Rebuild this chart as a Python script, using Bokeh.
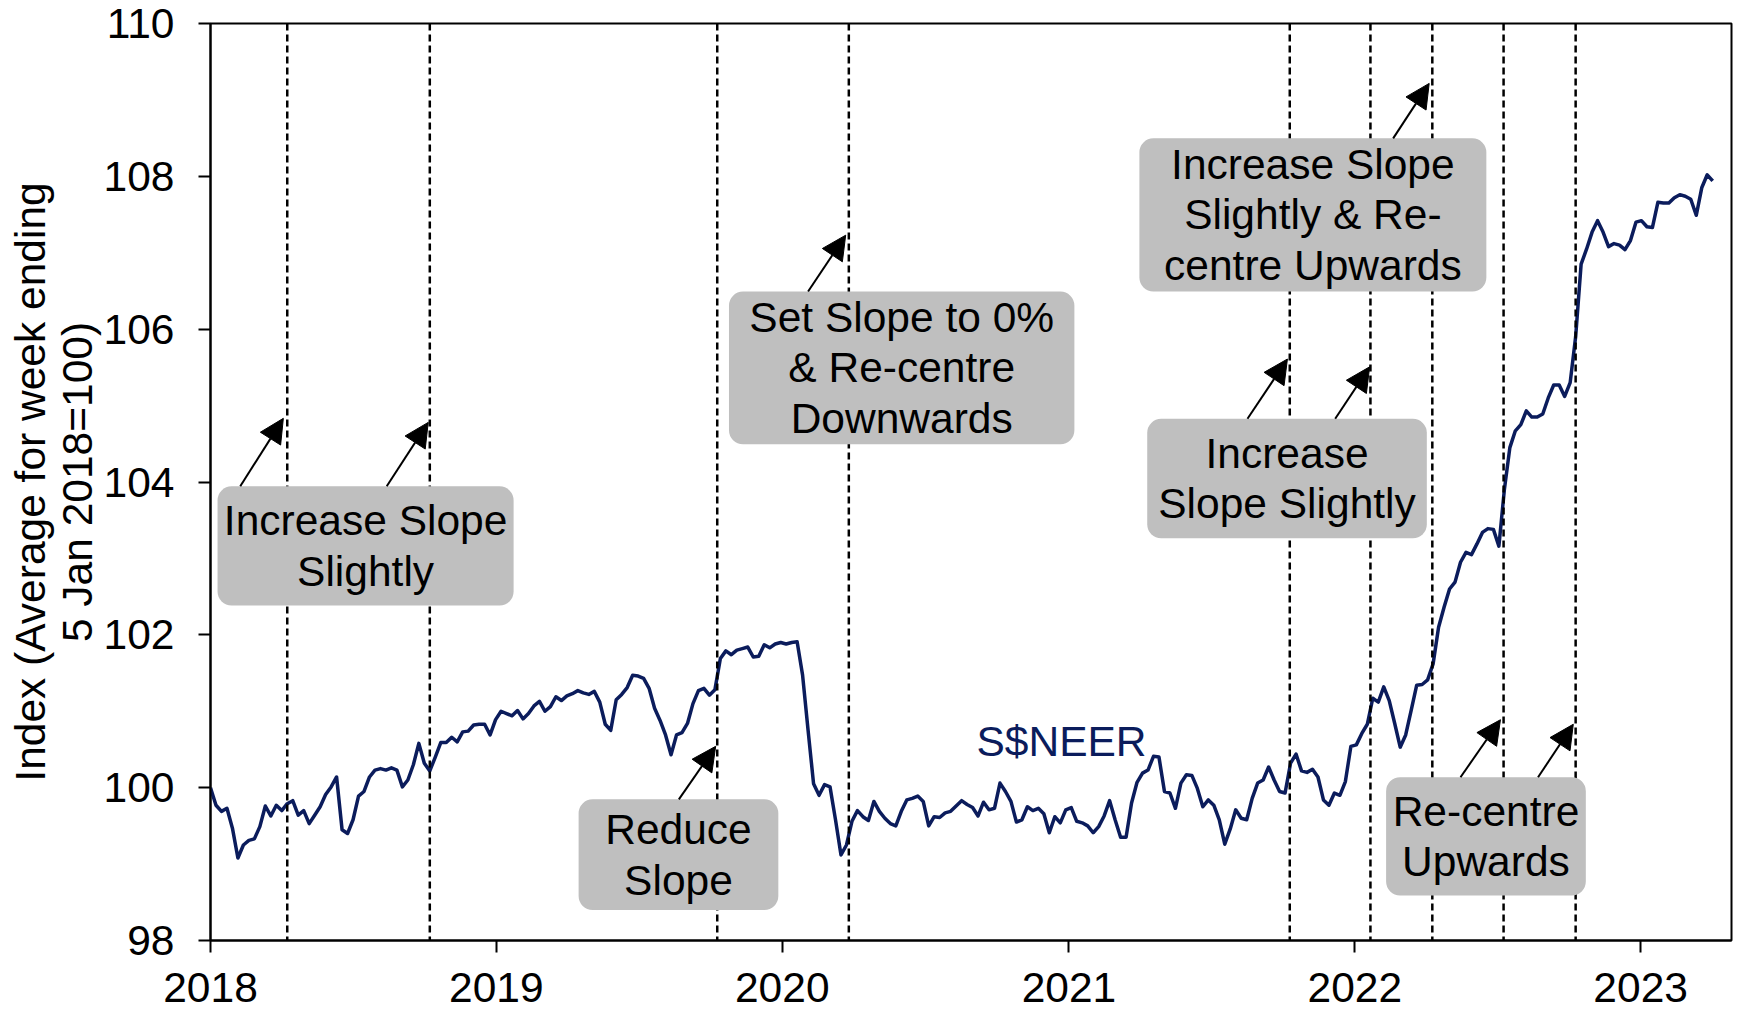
import pandas as pd
from bokeh.plotting import figure
from bokeh.models import (Range1d, FixedTicker, DatetimeTickFormatter, Span,
                          BoxAnnotation, Label, Arrow, NormalHead)
from bokeh.embed import file_html
from bokeh.resources import INLINE

# ---------------- data ----------------
START = "2018-01-05"          # first weekly observation (index base)
END_AXIS = "2023-05-01"

neer_2018 = [100.00, 99.77, 99.69, 99.73, 99.47, 99.08, 99.25, 99.31, 99.33, 99.49,
             99.76, 99.63, 99.77, 99.70, 99.79, 99.83, 99.64, 99.70, 99.53, 99.64,
             99.75, 99.91, 100.01, 100.14, 99.45, 99.40, 99.58, 99.89, 99.95, 100.14,
             100.23, 100.25, 100.23, 100.26, 100.23, 100.01, 100.10, 100.30, 100.58, 100.32,
             100.22, 100.40, 100.59, 100.59, 100.66, 100.60, 100.73, 100.74, 100.82, 100.83,
             100.83, 100.69]
neer_2019 = [100.89, 101.00, 100.97, 100.94, 101.01, 100.90, 100.97, 101.07, 101.13, 101.00,
             101.06, 101.19, 101.14, 101.20, 101.23, 101.27, 101.24, 101.22, 101.26, 101.12,
             100.83, 100.75, 101.15, 101.22, 101.31, 101.47, 101.46, 101.43, 101.30, 101.04,
             100.88, 100.69, 100.43, 100.69, 100.72, 100.84, 101.10, 101.27, 101.30, 101.21,
             101.28, 101.69, 101.79, 101.74, 101.80, 101.82, 101.84, 101.71, 101.72, 101.87,
             101.83, 101.88]
neer_2020 = [101.90, 101.88, 101.90, 101.91, 101.47, 100.75, 100.05, 99.90, 100.04, 100.01,
             99.58, 99.12, 99.25, 99.56, 99.70, 99.62, 99.57, 99.82, 99.69, 99.60,
             99.53, 99.50, 99.69, 99.84, 99.86, 99.89, 99.82, 99.50, 99.62, 99.61,
             99.67, 99.69, 99.76, 99.83, 99.78, 99.74, 99.63, 99.81, 99.71, 99.73,
             100.06, 99.95, 99.82, 99.55, 99.58, 99.75, 99.70, 99.73, 99.66, 99.41,
             99.62, 99.54]
neer_2021 = [99.71, 99.74, 99.56, 99.54, 99.50, 99.41, 99.49, 99.63, 99.83, 99.58,
             99.35, 99.35, 99.80, 100.07, 100.19, 100.23, 100.41, 100.40, 99.95, 99.93,
             99.73, 100.06, 100.17, 100.16, 99.99, 99.75, 99.84, 99.77, 99.58, 99.26,
             99.46, 99.71, 99.60, 99.58, 99.86, 100.06, 100.10, 100.27, 100.10, 99.95,
             99.93, 100.32, 100.44, 100.22, 100.20, 100.24, 100.14, 99.84, 99.77, 99.93,
             99.90, 100.08, 100.54]
neer_2022 = [100.56, 100.71, 100.83, 101.17, 101.12, 101.32, 101.14, 100.84, 100.53, 100.69,
             101.01, 101.34, 101.35, 101.41, 101.62, 102.10, 102.36, 102.60, 102.69, 102.95,
             103.08, 103.05, 103.19, 103.34, 103.39, 103.38, 103.16, 103.90, 104.45, 104.67,
             104.75, 104.93, 104.85, 104.85, 104.89, 105.10, 105.27, 105.27, 105.12, 105.30,
             105.90, 106.85, 107.05, 107.27, 107.42, 107.27, 107.08, 107.12, 107.10, 107.04,
             107.16, 107.40]
neer_2023 = [107.42, 107.34, 107.33, 107.66, 107.65, 107.65, 107.72, 107.76, 107.74, 107.70,
             107.49, 107.85, 108.02, 107.94]

neer = neer_2018 + neer_2019 + neer_2020 + neer_2021 + neer_2022 + neer_2023
dates = pd.date_range(START, periods=len(neer), freq="7D")

y_ticks = [98, 100, 102, 104, 106, 108, 110]
year_ticks = ["2018-01-05", "2019-01-05", "2020-01-05", "2021-01-05", "2022-01-05", "2023-01-05"]

# MAS monetary policy decision dates (dashed lines)
policy_dates = ["2018-04-13", "2018-10-12", "2019-10-14", "2020-03-30", "2021-10-14",
                "2022-01-25", "2022-04-14", "2022-07-14", "2022-10-14"]

# annotation boxes: text, left, right, top, bottom
box_text = ["Increase Slope\nSlightly",
            "Set Slope to 0%\n& Re-centre\nDownwards",
            "Reduce\nSlope",
            "Increase Slope\nSlightly & Re-\ncentre Upwards",
            "Increase\nSlope Slightly",
            "Re-centre\nUpwards"]
box_left = ["2018-01-14", "2019-10-29", "2019-04-20", "2021-04-05", "2021-04-15", "2022-02-14"]
box_right = ["2019-01-27", "2021-01-12", "2019-12-31", "2022-06-22", "2022-04-07", "2022-10-27"]
box_top = [103.944, 106.492, 99.847, 108.497, 104.827, 100.136]
box_bottom = [102.383, 104.494, 98.399, 106.493, 103.264, 98.588]

# arrows: start (date, value) -> end (date, value)
arr_x0 = ["2018-02-12", "2018-08-18", "2020-02-07", "2019-08-26", "2022-02-23",
          "2021-08-21", "2021-12-11", "2022-05-20", "2022-08-27"]
arr_y0 = [103.944, 103.944, 106.492, 99.847, 108.497, 104.827, 104.827, 100.136, 100.136]
arr_x1 = ["2018-04-08", "2018-10-10", "2020-03-26", "2019-10-12", "2022-04-10",
          "2021-10-11", "2022-01-24", "2022-07-10", "2022-10-11"]
arr_y1 = [104.833, 104.78, 107.23, 100.541, 109.216, 105.609, 105.507, 100.889, 100.83]

series_label = "S$NEER"
series_label_x = "2020-09-09"
series_label_y = 100.61

NAVY = "#0B1C5C"
FONT = "Liberation Sans"
FS = "42.5px"


def ms(s):
    return int(pd.Timestamp(s).value // 10**6)


# ---------------- figure ----------------
p = figure(width=1735, height=1010, x_axis_type="datetime",
           output_backend="svg", toolbar_location=None,
           x_range=Range1d(ms(START), ms(END_AXIS)), y_range=Range1d(98, 110),
           min_border_left=210, min_border_right=4, min_border_top=23, min_border_bottom=70)
p.xgrid.visible = False
p.ygrid.visible = False
p.outline_line_color = "black"
p.outline_line_width = 2
p.background_fill_color = "white"
p.border_fill_color = "white"

for ax in (p.xaxis[0], p.yaxis[0]):
    ax.axis_line_color = "black"
    ax.axis_line_width = 2
    ax.major_tick_line_color = "black"
    ax.major_tick_line_width = 2
    ax.major_tick_out = 12
    ax.major_tick_in = 0
    ax.minor_tick_line_color = None
    ax.major_label_text_font = FONT
    ax.major_label_text_font_size = FS
    ax.major_label_text_color = "black"

p.yaxis.ticker = FixedTicker(ticks=y_ticks)
p.yaxis.major_label_standoff = 24
p.yaxis.axis_label = "Index (Average for week ending\n5 Jan 2018=100)"
p.yaxis.axis_label_text_font = FONT
p.yaxis.axis_label_text_font_size = FS
p.yaxis.axis_label_text_font_style = "normal"
p.yaxis.axis_label_text_color = "black"
p.yaxis.axis_label_standoff = 0
p.yaxis.axis_label_text_line_height = 1.0

p.xaxis.ticker = FixedTicker(ticks=[ms(d) for d in year_ticks])
p.xaxis.formatter = DatetimeTickFormatter(years="%Y", months="%Y", days="%Y")
p.xaxis.major_label_standoff = 20

# policy lines
for d in policy_dates:
    p.add_layout(Span(location=ms(d), dimension="height", line_color="black",
                      line_width=2.5, line_dash="7 4"))

# series
p.line(dates, neer, line_color=NAVY, line_width=3.5, line_join="round")

# boxes + texts
for t, l, r, tp, bt in zip(box_text, box_left, box_right, box_top, box_bottom):
    p.add_layout(BoxAnnotation(left=ms(l), right=ms(r), top=tp, bottom=bt,
                               fill_color="#BFBFBF", fill_alpha=1.0, line_color=None,
                               border_radius=14))
for t, l, r, tp, bt in zip(box_text, box_left, box_right, box_top, box_bottom):
    p.add_layout(Label(x=(ms(l) + ms(r)) / 2, y=(tp + bt) / 2, text=t,
                       text_align="center", text_baseline="middle",
                       text_font=FONT, text_font_size=FS, text_color="black",
                       text_line_height=1.08))

for x0, y0, x1, y1 in zip(arr_x0, arr_y0, arr_x1, arr_y1):
    p.add_layout(Arrow(end=NormalHead(size=24, fill_color="black", line_color="black",
                                      line_width=1),
                       x_start=ms(x0), y_start=y0, x_end=ms(x1), y_end=y1,
                       line_color="black", line_width=2))

p.add_layout(Label(x=ms(series_label_x), y=series_label_y, text=series_label,
                   text_align="left", text_baseline="alphabetic",
                   text_font=FONT, text_font_size=FS, text_color=NAVY))

open("out.html", "w").write(file_html(p, INLINE))
